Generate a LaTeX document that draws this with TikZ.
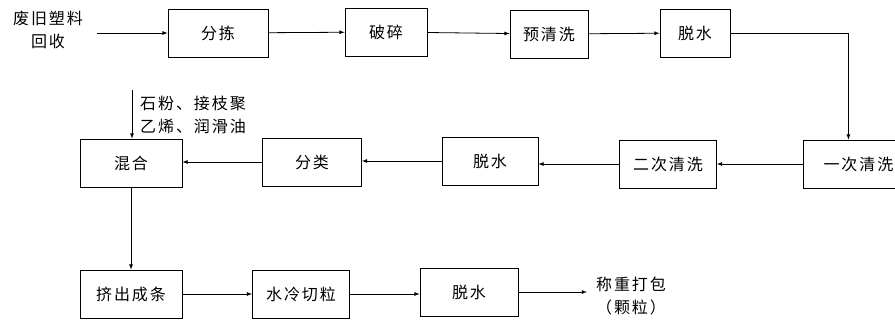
\documentclass[tikz,border=0pt]{standalone}
\usepackage{fontspec}
\newfontfamily\cjk[LetterSpace=12]{Noto Sans CJK SC}
\tikzset{
    stepbox/.style={draw,line width=0.8pt,minimum height=48pt,inner sep=0pt,font=\cjk\fontsize{16}{22}\selectfont},
    flow/.style={draw,line width=0.8pt,-latex},
    note/.style={inner sep=0pt,align=center,font=\cjk\fontsize{16}{23}\selectfont}
}

\begin{document}
\begin{tikzpicture}[x=1pt,y=-1pt]
                \useasboundingbox (0,0) rectangle (895,322);

                \node[note] (input) at (48,30) {废旧塑料\\回收};
                \coordinate (instart) at (97,33);

                \node[stepbox,minimum width=100pt] (fenjian) at (218,33) {分拣};
                \node[stepbox,minimum width=82pt] (posui) at (386,32) {破碎};
                \node[stepbox,minimum width=78pt] (yuqingxi) at (549,34) {预清洗};
                \node[stepbox,minimum width=70pt] (tuoshuiA) at (695,33) {脱水};

                \node[stepbox,minimum width=110pt,anchor=west] (yici) at (803,164) {一次清洗};
                \node[stepbox,minimum width=97pt] (erci) at (668,164) {二次清洗};
                \node[stepbox,minimum width=96pt] (tuoshuiB) at (490,161) {脱水};
                \node[stepbox,minimum width=99pt] (fenlei) at (312,162) {分类};
                \node[stepbox,minimum width=102pt] (hunhe) at (131,163) {混合};

                \coordinate (addtop) at (132,90);
                \node[note,anchor=west,align=left] (additive) at (140,115) {石粉、接枝聚\\乙烯、润滑油};

                \node[stepbox,minimum width=102pt] (jichu) at (131,294) {挤出成条};
                \node[stepbox,minimum width=97pt] (shuileng) at (301,294) {水冷切粒};
                \node[stepbox,minimum width=98pt] (tuoshuiC) at (469,292) {脱水};

                \coordinate (outend) at (587,292);
                \node[note] (output) at (631,296) {称重打包\\（颗粒）};

                \draw[flow] (instart) -- (fenjian);
                \draw[flow] (fenjian) -- (posui);
                \draw[flow] (posui) -- (yuqingxi);
                \draw[flow] (yuqingxi) -- (tuoshuiA);
                \draw[flow] (tuoshuiA.east) -| ([xshift=-10pt]yici.north);

                \draw[flow] (yici.west) -- (erci.east |- yici.west);
                \draw[flow] (erci.west) -- (tuoshuiB.east |- erci.west);
                \draw[flow] (tuoshuiB.west) -- (fenlei.east |- tuoshuiB.west);
                \draw[flow] (fenlei.west) -- (hunhe.east |- fenlei.west);
                \draw[flow] (addtop) -- (addtop |- hunhe.north);

                \draw[flow] (hunhe) -- (jichu);
                \draw[flow] (jichu) -- (shuileng);
                \draw[flow] (shuileng.east) -- (tuoshuiC.west |- shuileng.east);
                \draw[flow] (tuoshuiC.east) -- (outend);
            \end{tikzpicture}
\end{document}
